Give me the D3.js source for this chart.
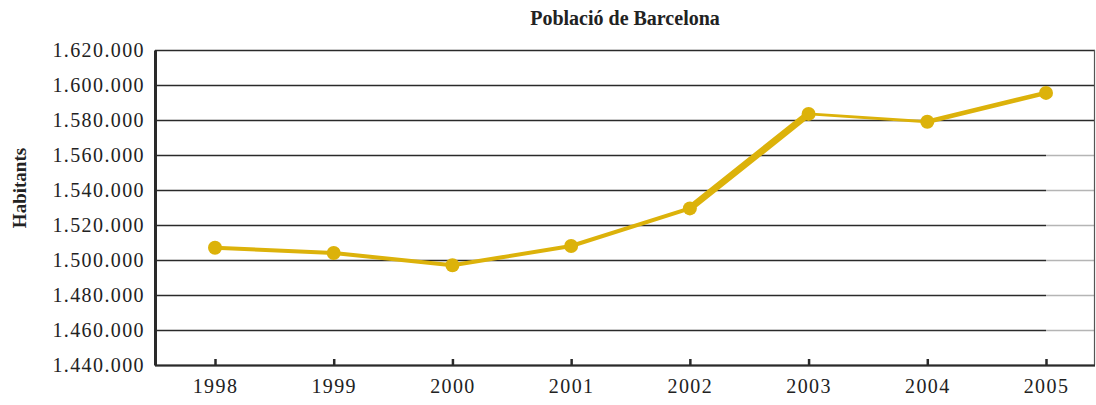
<!DOCTYPE html>
<html>
<head>
<meta charset="utf-8">
<script src="https://cdn.jsdelivr.net/npm/d3@7"></script>
<style>
  body { margin: 0; background: #fff; }
  svg { display: block; }
  text { font-family: "Liberation Serif", "DejaVu Serif", serif; fill: #222; }
</style>
</head>
<body>
<svg id="chart" width="1096" height="405"></svg>
<script>
// data
const years = ["1998", "1999", "2000", "2001", "2002", "2003", "2004", "2005"];
const population = [1507000, 1504000, 1497000, 1508000, 1529500, 1583500, 1579000, 1595500];
const yTicks = [1440000, 1460000, 1480000, 1500000, 1520000, 1540000, 1560000, 1580000, 1600000, 1620000];

// stroke width of each segment between consecutive years (style only)
const segWidths = [4, 4, 4, 4, 7, 3, 4.5];

const width = 1096, height = 405;
const plot = { left: 155, right: 1095, top: 50, bottom: 365 };
const gold = "#dcb20a";

const svg = d3.select("#chart");

const x = d3.scalePoint()
  .domain(years)
  .range([215, 1046]);

const y = d3.scaleLinear()
  .domain([1440000, 1620000])
  .range([plot.bottom, plot.top]);

const fmt = v => d3.format(",")(v).replace(/,/g, ".");

// gridlines (lower ones fade after the last category)
const grid = svg.append("g");
yTicks.forEach(t => {
  const yy = Math.round(y(t)) + 0.5;
  const fade = t < 1570000 && t > 1440000;
  grid.append("line")
    .attr("x1", plot.left).attr("x2", fade ? x("2005") : plot.right)
    .attr("y1", yy).attr("y2", yy)
    .attr("stroke", "#2a2a2a").attr("stroke-width", 1.3);
  if (fade) {
    grid.append("line")
      .attr("x1", x("2005")).attr("x2", plot.right)
      .attr("y1", yy).attr("y2", yy)
      .attr("stroke", "#b5b5b5").attr("stroke-width", 1.3);
  }
});

// right border
svg.append("line")
  .attr("x1", plot.right - 0.5).attr("x2", plot.right - 0.5)
  .attr("y1", plot.top).attr("y2", plot.bottom)
  .attr("stroke", "#555").attr("stroke-width", 1.2);

// y axis
const yAxis = svg.append("g")
  .attr("transform", `translate(${plot.left},0)`)
  .call(d3.axisLeft(y).tickValues(yTicks).tickFormat(fmt).tickSize(0).tickPadding(10));
yAxis.select(".domain").attr("stroke", "#2a2a2a").attr("stroke-width", 3);
yAxis.selectAll("text")
  .style("font-family", '"Liberation Serif", serif')
  .style("font-size", "20px")
  .style("letter-spacing", "1.4px")
  .attr("fill", "#222");

// x axis with small inward ticks
const xAxis = svg.append("g")
  .attr("transform", `translate(0,${plot.bottom})`)
  .call(d3.axisBottom(x).tickSize(-6).tickPadding(14));
xAxis.select(".domain")
  .attr("d", `M${plot.left},0.5H${plot.right}`)
  .attr("stroke", "#2a2a2a").attr("stroke-width", 2);
xAxis.selectAll(".tick line").attr("stroke", "#2a2a2a").attr("stroke-width", 2.5);
xAxis.selectAll("text")
  .style("font-family", '"Liberation Serif", serif')
  .style("font-size", "20px")
  .style("letter-spacing", "1.4px")
  .attr("fill", "#222");

// line segments
const pts = years.map((yr, i) => ({ yr, v: population[i] }));
svg.append("g").selectAll("line")
  .data(d3.pairs(pts))
  .join("line")
  .attr("x1", d => x(d[0].yr)).attr("y1", d => y(d[0].v))
  .attr("x2", d => x(d[1].yr)).attr("y2", d => y(d[1].v))
  .attr("stroke", gold)
  .attr("stroke-width", (d, i) => segWidths[i])
  .attr("stroke-linecap", "round");

// markers
svg.append("g").selectAll("circle")
  .data(pts)
  .join("circle")
  .attr("cx", d => x(d.yr))
  .attr("cy", d => y(d.v))
  .attr("r", 7)
  .attr("fill", gold);

// title
svg.append("text")
  .attr("x", (plot.left + plot.right) / 2)
  .attr("y", 25)
  .attr("text-anchor", "middle")
  .style("font-size", "20px")
  .style("font-weight", "bold")
  .text("Població de Barcelona");

// y label
svg.append("text")
  .attr("transform", "translate(26,188) rotate(-90)")
  .attr("text-anchor", "middle")
  .style("font-size", "19px")
  .style("font-weight", "bold")
  .text("Habitants");
</script>
</body>
</html>
